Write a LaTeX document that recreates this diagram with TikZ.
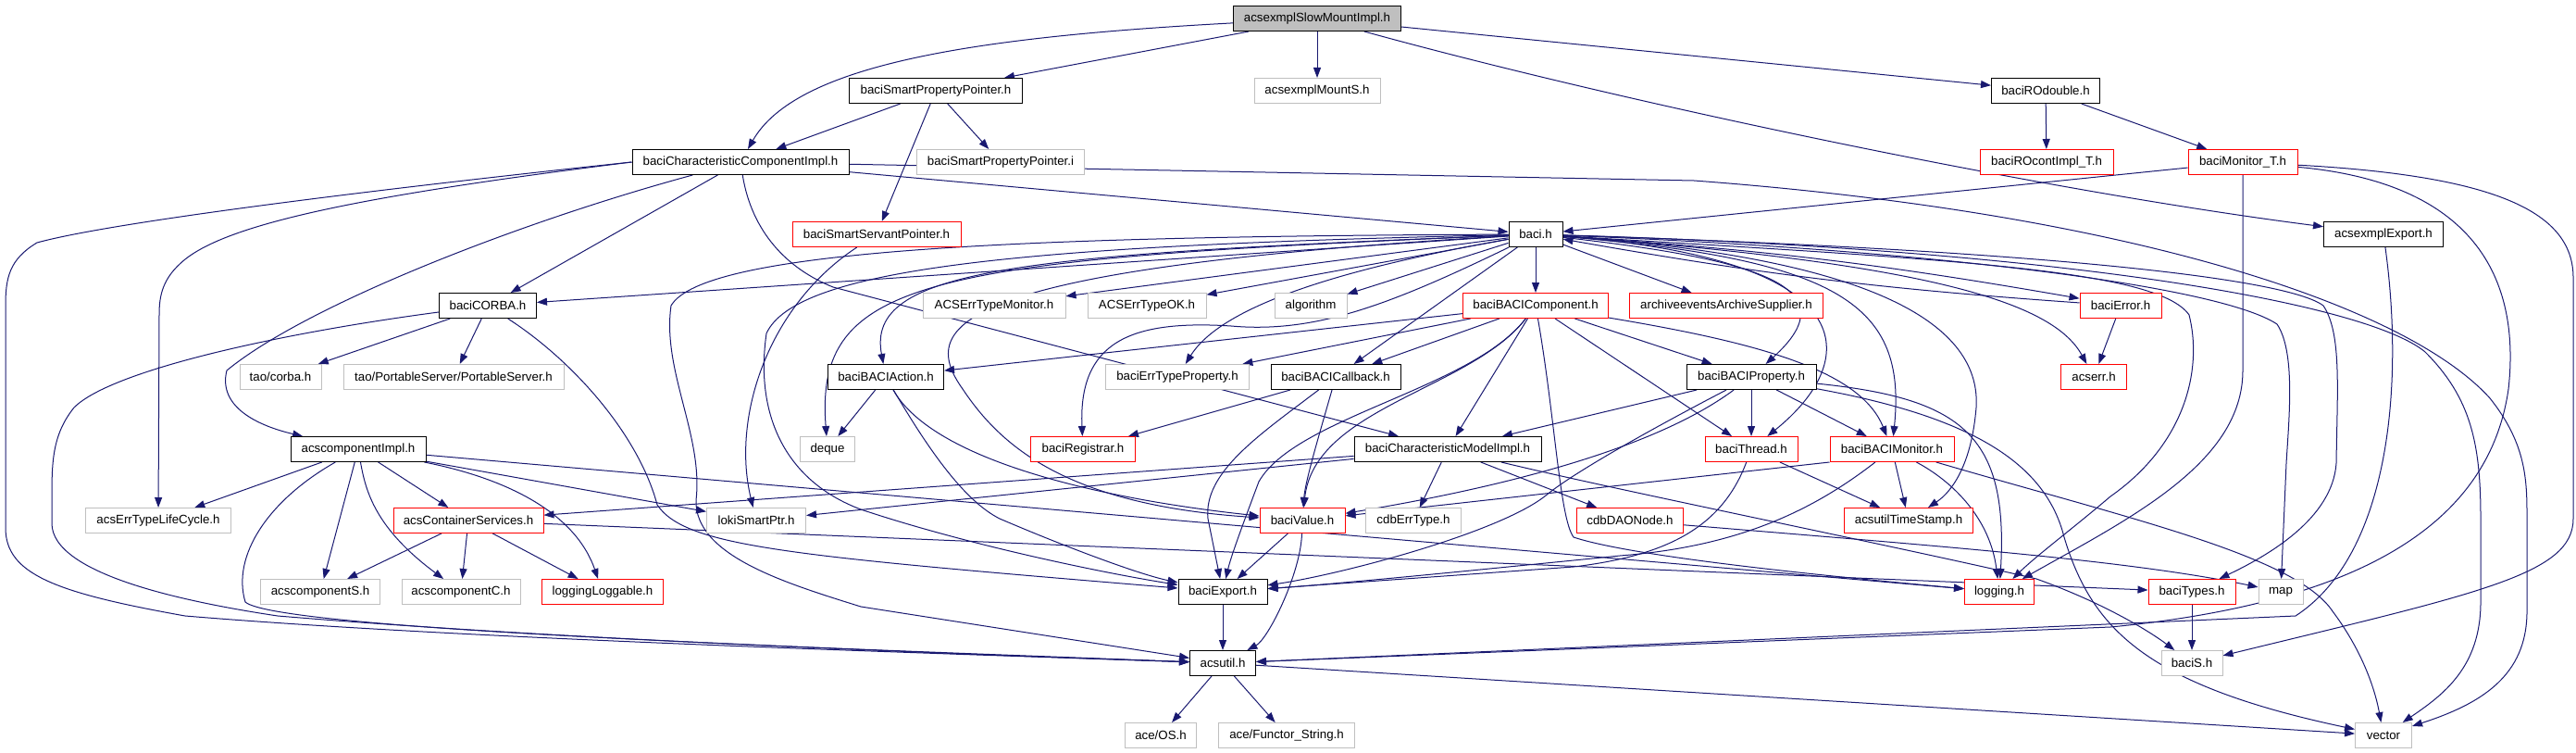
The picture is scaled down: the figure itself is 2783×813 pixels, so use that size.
\documentclass[tikz,border=0pt]{standalone}
\usepackage{fontspec}
\setmainfont{Liberation Sans}
\usetikzlibrary{arrows.meta}
\definecolor{edgec}{HTML}{191970}
\definecolor{grayb}{HTML}{BFBFBF}
\pgfdeclarelayer{bg}
\pgfsetlayers{bg,main}
\begin{document}
\begin{tikzpicture}[x=1pt,y=-1pt,
  box/.style={rectangle, line width=1pt, minimum height=27pt, inner sep=0pt, fill=white, font=\fontsize{13.3pt}{16pt}\selectfont, text=black},
  blkbox/.style={box, draw=black},
  redbox/.style={box, draw=red},
  graybox/.style={box, draw=grayb},
  rootbox/.style={box, draw=black, fill=grayb},
  conn/.style={draw=edgec, line width=1pt, -{Triangle[length=11pt,width=8pt]}}]
\useasboundingbox (0,0) rectangle (2783,813);
% nodes
\node[rootbox, minimum width=181pt] (R) at (1423,20) {acsexmplSlowMountImpl.h};
\node[blkbox, minimum width=187pt] (bSPP) at (1011,98) {baciSmartPropertyPointer.h};
\node[graybox, minimum width=136pt] (MountS) at (1423,98) {acsexmplMountS.h};
\node[blkbox, minimum width=117pt] (ROd) at (2210,98) {baciROdouble.h};
\node[blkbox, minimum width=234pt] (bCCI) at (800,175) {baciCharacteristicComponentImpl.h};
\node[graybox, minimum width=181pt] (bSPPi) at (1081,175) {baciSmartPropertyPointer.i};
\node[redbox, minimum width=144pt] (ROc) at (2211,175) {baciROcontImpl\_T.h};
\node[redbox, minimum width=118pt] (MT) at (2423,175) {baciMonitor\_T.h};
\node[redbox, minimum width=182pt] (bSSP) at (947,253) {baciSmartServantPointer.h};
\node[blkbox, minimum width=58pt] (B) at (1659,253) {baci.h};
\node[blkbox, minimum width=129pt] (XExp) at (2575,253) {acsexmplExport.h};
\node[blkbox, minimum width=105pt] (CORBA) at (527,330) {baciCORBA.h};
\node[graybox, minimum width=154pt] (ETM) at (1074,330) {ACSErrTypeMonitor.h};
\node[graybox, minimum width=128pt] (ETOK) at (1239,330) {ACSErrTypeOK.h};
\node[graybox, minimum width=78pt] (algo) at (1416,330) {algorithm};
\node[redbox, minimum width=157pt] (BComp) at (1659,330) {baciBACIComponent.h};
\node[redbox, minimum width=209pt] (arch) at (1865,330) {archiveeventsArchiveSupplier.h};
\node[redbox, minimum width=88pt] (bErr) at (2291,330) {baciError.h};
\node[graybox, minimum width=88pt] (taoc) at (303,407) {tao/corba.h};
\node[graybox, minimum width=238pt] (taops) at (490,407) {tao/PortableServer/PortableServer.h};
\node[blkbox, minimum width=125pt] (Act) at (957,407) {baciBACIAction.h};
\node[graybox, minimum width=155pt] (ETP) at (1272,407) {baciErrTypeProperty.h};
\node[blkbox, minimum width=140pt] (Cb) at (1443,407) {baciBACICallback.h};
\node[blkbox, minimum width=140pt] (BProp) at (1892,407) {baciBACIProperty.h};
\node[redbox, minimum width=71pt] (acserr) at (2262,407) {acserr.h};
\node[blkbox, minimum width=146pt] (CImpl) at (387,485) {acscomponentImpl.h};
\node[graybox, minimum width=59pt] (deque) at (894,485) {deque};
\node[redbox, minimum width=113pt] (Reg) at (1170,485) {baciRegistrar.h};
\node[blkbox, minimum width=202pt] (bCMI) at (1564,485) {baciCharacteristicModelImpl.h};
\node[redbox, minimum width=100pt] (Thr) at (1892,485) {baciThread.h};
\node[redbox, minimum width=134pt] (BMon) at (2044,485) {baciBACIMonitor.h};
\node[graybox, minimum width=157pt] (LC) at (171,562) {acsErrTypeLifeCycle.h};
\node[redbox, minimum width=162pt] (CS) at (506,562) {acsContainerServices.h};
\node[graybox, minimum width=107pt] (loki) at (817,562) {lokiSmartPtr.h};
\node[redbox, minimum width=92pt] (Val) at (1407,562) {baciValue.h};
\node[graybox, minimum width=103pt] (cdbE) at (1527,562) {cdbErrType.h};
\node[redbox, minimum width=115pt] (cdbD) at (1761,562) {cdbDAONode.h};
\node[redbox, minimum width=139pt] (TS) at (2062,562) {acsutilTimeStamp.h};
\node[graybox, minimum width=129pt] (cS) at (346,639) {acscomponentS.h};
\node[graybox, minimum width=128pt] (cC) at (498,639) {acscomponentC.h};
\node[redbox, minimum width=131pt] (LL) at (651,639) {loggingLoggable.h};
\node[blkbox, minimum width=96pt] (Exp) at (1321,639) {baciExport.h};
\node[redbox, minimum width=75pt] (log) at (2160,639) {logging.h};
\node[redbox, minimum width=94pt] (Ty) at (2368,639) {baciTypes.h};
\node[graybox, minimum width=48pt] (map) at (2464,639) {map};
\node[blkbox, minimum width=71pt] (util) at (1321,716) {acsutil.h};
\node[graybox, minimum width=66pt] (bS) at (2368,716) {baciS.h};
\node[graybox, minimum width=77pt] (OS) at (1254,794) {ace/OS.h};
\node[graybox, minimum width=147pt] (FS) at (1390,794) {ace/Functor\_String.h};
\node[graybox, minimum width=61pt] (vec) at (2575,794) {vector};
% edges
\begin{pgfonlayer}{bg}
\draw[conn] (R) .. controls (1050,40) and (860,70) .. (bCCI);
\draw[conn] (R) -- (bSPP);
\draw[conn] (R) -- (MountS);
\draw[conn] (R) -- (ROd);
\draw[conn] (R) .. controls (1750,110) and (2200,205) .. (XExp);
\draw[conn] (bSPP) -- (bCCI);
\draw[conn] (bSPP) -- (bSPPi);
\draw[conn] (bSPP) -- (bSSP);
\draw[conn] (bSSP) .. controls (830,330) and (790,450) .. (loki);
\draw[conn] (ROd) -- (ROc);
\draw[conn] (ROd) -- (MT);
\draw[conn] (MT) -- (B);
\draw[conn] (MT.south) -- (2423,400) .. controls (2423,500) and (2300,560) .. (log);
\draw[conn] (MT) .. controls (2700,200) and (2720,330) .. (2710,420) .. controls (2690,560) and (2560,650) .. (2280,677) -- (util);
\draw[conn] (MT) .. controls (2700,190) and (2780,230) .. (2780,300) -- (2780,560) .. controls (2780,620) and (2680,640) .. (bS);
\draw[conn] (XExp) .. controls (2598,420) and (2580,600) .. (2480,665) -- (util);
% bCCI
\draw[conn] (bCCI.west) .. controls (400,205) and (120,240) .. (40,262) .. controls (10,280) and (6,300) .. (6,330) -- (6,570) .. controls (6,620) and (60,640) .. (200,665) .. controls (500,690) and (1000,705) .. (util);
\draw[conn] (bCCI.west) .. controls (400,210) and (250,240) .. (200,280) .. controls (175,300) and (172,320) .. (172,340) -- (LC);
\draw[conn] (bCCI) .. controls (560,240) and (330,330) .. (245,400) .. controls (235,440) and (280,460) .. (CImpl);
\draw[conn] (bCCI) -- (CORBA);
\draw[conn] (bCCI) .. controls (812,250) and (850,290) .. (900,310) -- (bCMI);
\draw[conn] (bCCI) -- (B);
\draw[conn] (bCCI) -- (1830,195) .. controls (2300,230) and (2600,330) .. (2690,430) .. controls (2730,480) and (2730,520) .. (2730,560) -- (2730,660) .. controls (2730,730) and (2680,760) .. (vec);
% CORBA
\draw[conn] (CORBA) -- (taoc);
\draw[conn] (CORBA) -- (taops);
\draw[conn] (CORBA) .. controls (300,360) and (120,400) .. (80,440) .. controls (56,470) and (56,500) .. (56,540) -- (56,565) .. controls (56,620) and (200,650) .. (300,665) .. controls (600,690) and (1000,705) .. (util);
\draw[conn] (CORBA) .. controls (620,390) and (690,470) .. (710,545) .. controls (740,590) and (850,600) .. (Exp);
% acscomponentImpl
\draw[conn] (CImpl) -- (LC);
\draw[conn] (CImpl) .. controls (290,540) and (250,600) .. (265,650) .. controls (300,680) and (900,700) .. (util);
\draw[conn] (CImpl) -- (cS);
\draw[conn] (CImpl) .. controls (395,530) and (405,570) .. (cC);
\draw[conn] (CImpl) -- (CS);
\draw[conn] (CImpl) .. controls (540,515) and (620,550) .. (LL);
\draw[conn] (CImpl) -- (loki);
\draw[conn] (CImpl) -- (log);
% acsContainerServices
\draw[conn] (CS) -- (cS);
\draw[conn] (CS) -- (cC);
\draw[conn] (CS) -- (LL);
\draw[conn] (CS) -- (Ty);
% baci.h
\draw[conn] (B) -- (CORBA);
\draw[conn] (B) -- (ETM);
\draw[conn] (B) -- (ETOK);
\draw[conn] (B) -- (algo);
\draw[conn] (B) -- (BComp);
\draw[conn] (B) -- (arch);
\draw[conn] (B) to[bend left=3] (bErr);
\draw[conn] (bErr) to[bend left=3] (B);
\draw[conn] (B) .. controls (2100,285) and (2220,330) .. (acserr);
\draw[conn] (B) .. controls (1100,275) and (935,290) .. (Act);
\draw[conn] (B) .. controls (1450,290) and (1320,330) .. (ETP);
\draw[conn] (B) -- (Cb);
\draw[conn] (B) .. controls (1500,330) and (1420,360) .. (1330,352) .. controls (1220,345) and (1165,370) .. (Reg);
\draw[conn] (B) .. controls (1000,280) and (880,300) .. (deque);
\draw[conn] (B) .. controls (1030,290) and (990,350) .. (1040,420) .. controls (1080,480) and (1150,545) .. (Val);
\draw[conn] (B) .. controls (1100,265) and (860,290) .. (828,360) .. controls (815,450) and (850,520) .. (930,550) .. controls (1050,590) and (1200,620) .. (Exp);
\draw[conn] (B) .. controls (1100,255) and (760,270) .. (725,330) .. controls (715,400) and (760,470) .. (752,540) .. controls (750,600) and (850,630) .. (930,655) -- (util);
\draw[conn] (B) .. controls (1900,280) and (2000,310) .. (BProp);
\draw[conn] (B) .. controls (2020,280) and (2010,390) .. (Thr);
\draw[conn] (B) .. controls (1990,280) and (2060,330) .. (BMon);
\draw[conn] (B) .. controls (2050,280) and (2140,360) .. (2135,440) .. controls (2130,500) and (2110,530) .. (TS);
\draw[conn] (B) .. controls (2100,280) and (2330,290) .. (2365,340) .. controls (2380,400) and (2360,480) .. (2280,536) .. controls (2240,570) and (2200,600) .. (log);
\draw[conn] (B) .. controls (2100,270) and (2400,310) .. (2460,350) .. controls (2480,380) and (2473,450) .. (2470,500) -- (map);
\draw[conn] (B) .. controls (2200,270) and (2470,300) .. (2510,330) .. controls (2530,360) and (2525,420) .. (2524,500) .. controls (2520,560) and (2450,600) .. (Ty);
\draw[conn] (B) .. controls (2250,270) and (2560,330) .. (2620,380) .. controls (2670,430) and (2680,480) .. (2680,560) -- (2680,650) .. controls (2680,720) and (2640,750) .. (vec);
\draw[conn] (bErr) -- (acserr);
% baciBACIComponent
\draw[conn] (BComp) -- (Act);
\draw[conn] (BComp) -- (ETP);
\draw[conn] (BComp) -- (Cb);
\draw[conn] (BComp) -- (bCMI);
\draw[conn] (BComp) .. controls (1590,420) and (1420,440) .. (Val);
\draw[conn] (BComp) .. controls (1590,420) and (1400,450) .. (1360,520) .. controls (1345,560) and (1330,600) .. (Exp);
\draw[conn] (BComp) .. controls (1680,450) and (1685,560) .. (1700,580) .. controls (1760,600) and (1950,620) .. (log);
\draw[conn] (BComp) -- (Thr);
\draw[conn] (BComp) -- (BProp);
\draw[conn] (BComp) .. controls (1900,370) and (2010,400) .. (BMon);
% callback / action
\draw[conn] (Cb) -- (Reg);
\draw[conn] (Cb) .. controls (1360,470) and (1300,510) .. (1305,560) -- (Exp);
\draw[conn] (Cb) .. controls (1425,470) and (1410,520) .. (Val);
\draw[conn] (Act) -- (deque);
\draw[conn] (Act) .. controls (1000,480) and (1040,540) .. (1080,560) .. controls (1150,590) and (1230,620) .. (Exp);
\draw[conn] (Act) .. controls (1010,500) and (1200,540) .. (Val);
% property
\draw[conn] (BProp) -- (bCMI);
\draw[conn] (BProp) .. controls (1780,490) and (1600,530) .. (Val);
\draw[conn] (BProp) .. controls (1790,460) and (1700,510) .. (1670,535) .. controls (1620,575) and (1450,620) .. (Exp);
\draw[conn] (BProp) -- (Thr);
\draw[conn] (BProp) -- (BMon);
\draw[conn] (BProp) .. controls (2120,430) and (2170,470) .. (log);
\draw[conn] (BProp) .. controls (2130,450) and (2210,500) .. (2230,580) .. controls (2260,680) and (2320,740) .. (vec);
% monitor
\draw[conn] (BMon.south west) -- (Val);
\draw[conn] (BMon) .. controls (1960,550) and (1880,590) .. (1750,600) .. controls (1600,615) and (1450,630) .. (Exp);
\draw[conn] (BMon) -- (TS);
\draw[conn] (BMon) .. controls (2110,520) and (2150,560) .. (log);
\draw[conn] (BMon) .. controls (2300,560) and (2480,600) .. (2520,660) .. controls (2550,700) and (2565,740) .. (vec);
% thread
\draw[conn] (Thr) .. controls (1860,570) and (1800,600) .. (1700,612) -- (Exp);
\draw[conn] (Thr) -- (TS);
% characteristic model
\draw[conn] (bCMI) -- (cdbE);
\draw[conn] (bCMI) -- (cdbD);
\draw[conn] (bCMI) -- (CS);
\draw[conn] (bCMI) -- (loki);
\draw[conn] (bCMI) .. controls (1750,530) and (2050,590) .. (2200,625) .. controls (2270,650) and (2320,680) .. (bS);
\draw[conn] (cdbD) .. controls (2100,590) and (2300,605) .. (map);
% value / export / util
\draw[conn] (Val) -- (Exp);
\draw[conn] (Val) .. controls (1405,620) and (1370,690) .. (util);
\draw[conn] (Exp) -- (util);
\draw[conn] (util) -- (OS);
\draw[conn] (util) -- (FS);
\draw[conn] (util) -- (vec);
\draw[conn] (Ty) -- (bS);
\end{pgfonlayer}
\end{tikzpicture}
\end{document}
